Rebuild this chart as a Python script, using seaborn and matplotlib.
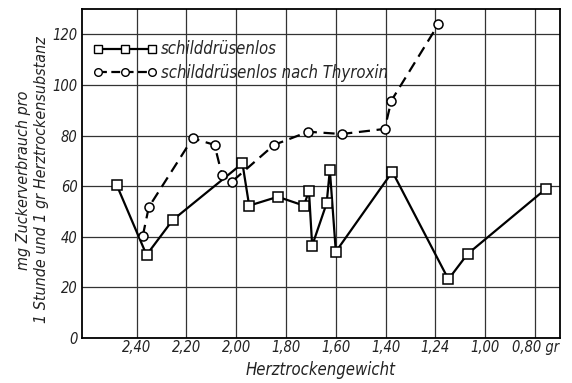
import matplotlib
matplotlib.use("Agg")
import matplotlib.pyplot as plt
import seaborn as sns
import pandas as pd
from matplotlib.lines import Line2D

# --- data ---
sq_weight = [2.48, 2.36, 2.255, 1.975, 1.948, 1.833, 1.728, 1.708, 1.695,
             1.637, 1.624, 1.600, 1.373, 1.148, 1.071, 0.757]
sq_sugar = [60.5, 32.8, 46.6, 69.0, 52.3, 55.8, 52.3, 58.2, 36.5,
            53.2, 66.4, 34.1, 65.7, 23.2, 33.2, 58.9]

ci_weight = [2.375, 2.351, 2.175, 2.087, 2.057, 2.017, 1.848, 1.711,
             1.577, 1.404, 1.377, 1.188]
ci_sugar = [40.4, 51.7, 78.9, 76.3, 64.4, 61.8, 76.3, 81.5,
            80.6, 82.6, 93.8, 124.0]

x_ticks = [2.40, 2.20, 2.00, 1.80, 1.60, 1.40, 1.20, 1.00, 0.80]
x_labels = ["2,40", "2,20", "2,00", "1,80", "1,60", "1,40", "1,24", "1,00", "0,80 gr"]
y_ticks = [0, 20, 40, 60, 80, 100, 120]
y_labels = ["0", "20", "40", "60", "80", "100", "120"]

label_sq = "schilddrüsenlos"
label_ci = "schilddrüsenlos nach Thyroxin"

sns.set_style("white")
plt.rcParams['font.family'] = ['DejaVu Sans']
plt.rcParams['font.stretch'] = 'condensed'
plt.rcParams['font.style'] = 'italic'

fig = plt.figure(figsize=(5.72, 3.83), dpi=100)
ax = fig.add_axes([0.143, 0.1175, 0.836, 0.859])

df_sq = pd.DataFrame({"w": sq_weight, "s": sq_sugar})
df_ci = pd.DataFrame({"w": ci_weight, "s": ci_sugar})

sns.lineplot(data=df_sq, x="w", y="s", ax=ax, color="black", linewidth=1.6,
             marker="s", markersize=6.5, markerfacecolor="white",
             markeredgecolor="black", markeredgewidth=1.1, sort=False, zorder=3)
sns.lineplot(data=df_ci, x="w", y="s", ax=ax, color="black", linewidth=1.6,
             marker="o", markersize=6.5, markerfacecolor="white",
             markeredgecolor="black", markeredgewidth=1.1, sort=False, zorder=3,
             dashes=False)
ax.lines[-1].set_linestyle((0, (5, 3)))

ax.set_xlim(2.62, 0.70)
ax.set_ylim(0, 130)
ax.set_xticks(x_ticks)
ax.set_xticklabels(x_labels)
ax.set_yticks(y_ticks)
ax.set_yticklabels(y_labels)
ax.tick_params(length=0, labelsize=10.5, colors="#222222")
ax.tick_params(axis="x", pad=1.5)
ax.tick_params(axis="y", pad=3)
ax.grid(True, color="#333333", linewidth=0.9)
for sp in ax.spines.values():
    sp.set_visible(True)
    sp.set_color("black")
    sp.set_linewidth(1.3)

ax.set_xlabel("Herztrockengewicht", fontsize=12, labelpad=4, color="#222222")
ax.set_ylabel("mg Zuckerverbrauch pro\n1 Stunde und 1 gr Herztrockensubstanz",
              fontsize=11.5, color="#222222", multialignment="center",
              linespacing=1.3)
ax.yaxis.set_label_coords(-0.068, 0.48)

handles = [
    Line2D([], [], color="black", lw=1.6, marker="s", markersize=5.5,
           markerfacecolor="white", markeredgecolor="black"),
    Line2D([], [], color="black", lw=1.6, ls=(0, (4, 2)), marker="o", markersize=5.5,
           markerfacecolor="white", markeredgecolor="black"),
]
ax.legend(handles, [label_sq, label_ci], numpoints=3, frameon=False,
          loc="upper left", bbox_to_anchor=(0.0, 0.94), handlelength=3.8,
          handletextpad=0.25, labelspacing=0.35, fontsize=12, borderaxespad=0.3)

fig.savefig("out.png", dpi=100, facecolor="white")
